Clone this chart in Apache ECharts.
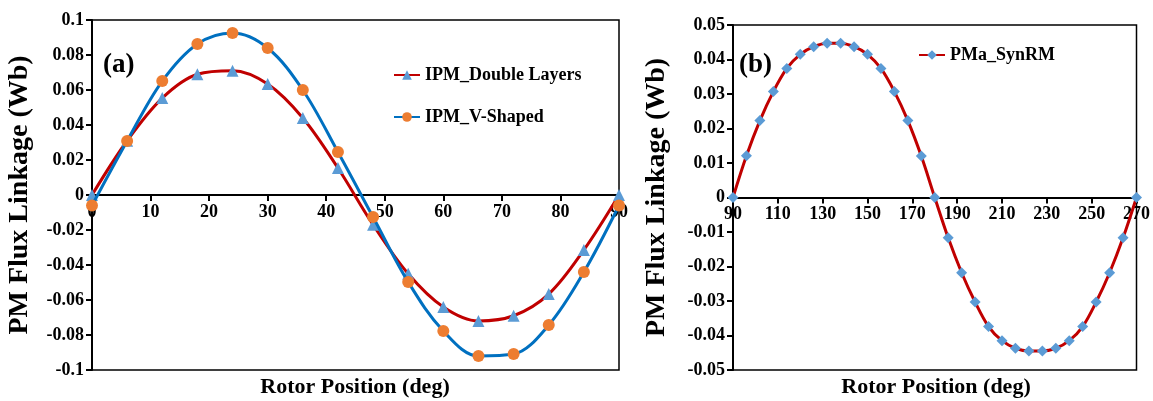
<!DOCTYPE html>
<html>
<head>
<meta charset="utf-8">
<script src="https://cdn.jsdelivr.net/npm/echarts@6/dist/echarts.min.js"></script>
<style>
html,body{margin:0;padding:0;background:#fff;}
#chart{width:1153px;height:401px;}
</style>
</head>
<body>
<div id="chart"></div>
<script>
// ---- Data (a) ----
const anglesA = [0, 6, 12, 18, 24, 30, 36, 42, 48, 54, 60, 66, 72, 78, 84, 90];
const ipmDoubleLayers = [0, 0.031, 0.0554, 0.069, 0.071, 0.0634, 0.044, 0.0154, -0.017, -0.045, -0.064, -0.072, -0.069, -0.0566, -0.0314, 0];
const ipmVShaped = [-0.006, 0.0309, 0.0651, 0.0863, 0.0926, 0.084, 0.060, 0.0246, -0.0126, -0.0497, -0.0777, -0.092, -0.0909, -0.0743, -0.044, -0.006];
const xTicksA = [0, 10, 20, 30, 40, 50, 60, 70, 80, 90];
const yTicksA = [-0.1, -0.08, -0.06, -0.04, -0.02, 0, 0.02, 0.04, 0.06, 0.08, 0.1];

// ---- Data (b) ----
const anglesB = [90, 96, 102, 108, 114, 120, 126, 132, 138, 144, 150, 156, 162, 168, 174, 180,
                 186, 192, 198, 204, 210, 216, 222, 228, 234, 240, 246, 252, 258, 264, 270];
const pmaSynRM = [0, 0.0121, 0.0223, 0.0307, 0.0374, 0.0415, 0.0437, 0.0447, 0.0447, 0.0437, 0.0415, 0.0374, 0.0307, 0.0223, 0.012, 0,
                  -0.0117, -0.0218, -0.0303, -0.0374, -0.0415, -0.0437, -0.0445, -0.0445, -0.0437, -0.0415, -0.0374, -0.0303, -0.0218, -0.0117, 0];
const xTicksB = [90, 110, 130, 150, 170, 190, 210, 230, 250, 270];
const yTicksB = [-0.05, -0.04, -0.03, -0.02, -0.01, 0, 0.01, 0.02, 0.03, 0.04, 0.05];

const names = ['IPM_Double Layers', 'IPM_V-Shaped', 'PMa_SynRM'];
const xTitle = 'Rotor Position (deg)';
const yTitle = 'PM Flux Linkage (Wb)';

const FONT = '"Liberation Serif", "Times New Roman", serif';
const pair = (xs, ys) => xs.map((x, i) => [x, ys[i]]);

// x axis is lifted from the grid bottom to the y = 0 line of each panel
function xAxisCfg(gi, min, max, ticks, lift) {
  return {
    type: 'value', gridIndex: gi, min: min, max: max, position: 'bottom', offset: -lift,
    axisLine: { show: true, onZero: false, lineStyle: { color: '#000', width: 2 } },
    axisTick: { show: true, length: 6, customValues: ticks, lineStyle: { color: '#000', width: 2 } },
    axisLabel: { customValues: ticks, color: '#000', fontFamily: FONT, fontWeight: 'bold', fontSize: 18, margin: 8 },
    splitLine: { show: false }
  };
}
function yAxisCfg(gi, min, max, ticks, gap) {
  return {
    type: 'value', gridIndex: gi, min: min, max: max,
    name: yTitle, nameLocation: 'middle', nameGap: gap, nameRotate: 90,
    nameTextStyle: { color: '#000', fontFamily: FONT, fontWeight: 'bold', fontSize: 28 },
    axisLine: { show: true, onZero: false, lineStyle: { color: '#000', width: 2 } },
    axisTick: { show: true, length: 6, customValues: ticks, lineStyle: { color: '#000', width: 2 } },
    axisLabel: { customValues: ticks, color: '#000', fontFamily: FONT, fontWeight: 'bold', fontSize: 18, margin: 8 },
    splitLine: { show: false }
  };
}

const chart = echarts.init(document.getElementById('chart'), null, { renderer: 'canvas' });
chart.setOption({
  backgroundColor: '#fff',
  animation: false,
  grid: [
    { left: 92, top: 20, width: 527, height: 350, show: true, borderColor: '#000', borderWidth: 1.5, backgroundColor: 'transparent' },
    { left: 733, top: 25, width: 406, height: 345, show: true, borderColor: '#000', borderWidth: 1.5, backgroundColor: 'transparent' }
  ],
  xAxis: [ xAxisCfg(0, 0, 90, xTicksA, 175), xAxisCfg(1, 90, 270, xTicksB, 172.5) ],
  yAxis: [ yAxisCfg(0, -0.1, 0.1, yTicksA, 58), yAxisCfg(1, -0.05, 0.05, yTicksB, 62) ],
  legend: [
    {
      data: [names[0], names[1]], orient: 'vertical', left: 388, top: 60,
      itemWidth: 26, itemHeight: 12, itemGap: 22,
      textStyle: { color: '#000', fontFamily: FONT, fontWeight: 'bold', fontSize: 18, lineHeight: 20 }
    },
    {
      data: [names[2]], orient: 'vertical', left: 913, top: 40,
      itemWidth: 26, itemHeight: 12,
      textStyle: { color: '#000', fontFamily: FONT, fontWeight: 'bold', fontSize: 18, lineHeight: 20 }
    }
  ],
  graphic: [
    { type: 'text', left: 103, top: 52, style: { text: '(a)', font: 'bold 27px ' + FONT, fill: '#000' } },
    { type: 'text', left: 739, top: 52, style: { text: '(b)', font: 'bold 27px ' + FONT, fill: '#000' } },
    { type: 'text', x: 355, y: 387, style: { text: xTitle, font: 'bold 22px ' + FONT, fill: '#000', textAlign: 'center', textVerticalAlign: 'middle' } },
    { type: 'text', x: 936, y: 387, style: { text: xTitle, font: 'bold 22px ' + FONT, fill: '#000', textAlign: 'center', textVerticalAlign: 'middle' } }
  ],
  series: [
    {
      name: names[0], type: 'line', xAxisIndex: 0, yAxisIndex: 0,
      data: pair(anglesA, ipmDoubleLayers), smooth: 0.35,
      symbol: 'triangle', symbolSize: 12,
      lineStyle: { color: '#C00000', width: 3 },
      itemStyle: { color: '#5B9BD5', borderWidth: 0 },
      z: 2
    },
    {
      name: names[1], type: 'line', xAxisIndex: 0, yAxisIndex: 0,
      data: pair(anglesA, ipmVShaped), smooth: 0.35,
      symbol: 'circle', symbolSize: 12,
      lineStyle: { color: '#0070C0', width: 3 },
      itemStyle: { color: '#ED7D31', borderWidth: 0 },
      z: 3
    },
    {
      name: names[2], type: 'line', xAxisIndex: 1, yAxisIndex: 1,
      data: pair(anglesB, pmaSynRM), smooth: 0.35,
      symbol: 'diamond', symbolSize: 11,
      lineStyle: { color: '#C00000', width: 3 },
      itemStyle: { color: '#5B9BD5', borderWidth: 0 },
      z: 2
    }
  ]
});
</script>
</body>
</html>
